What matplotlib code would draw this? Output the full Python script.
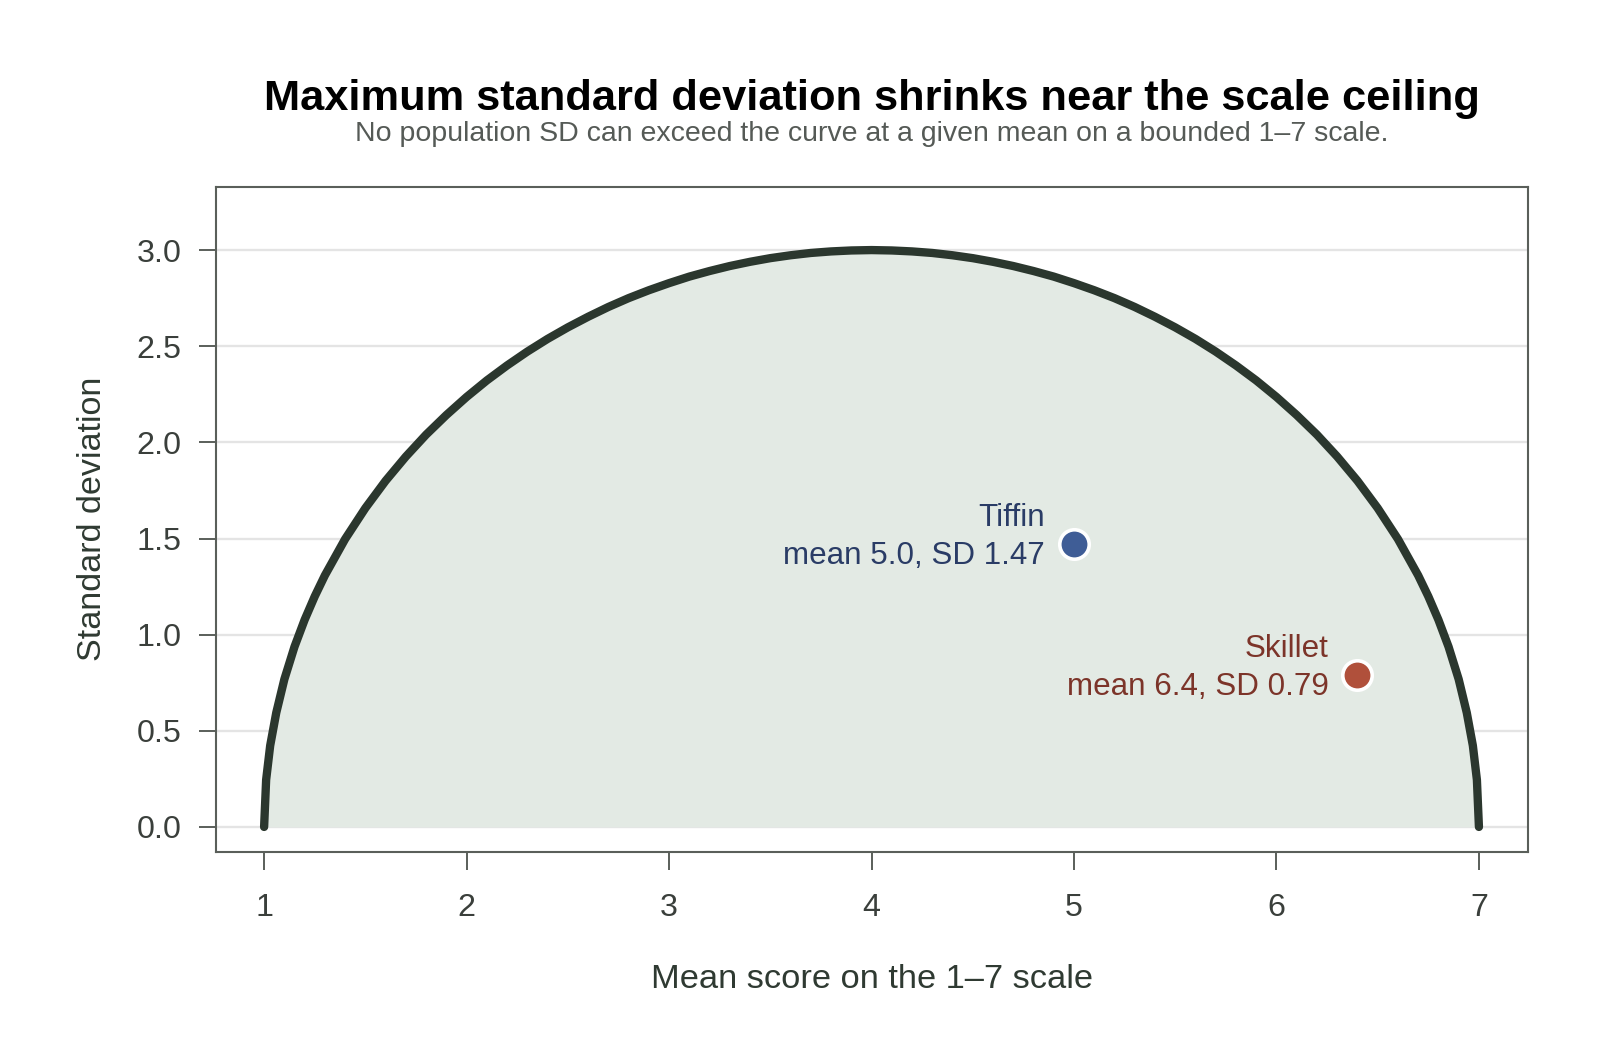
import matplotlib
matplotlib.use("Agg")
import matplotlib.pyplot as plt
from matplotlib.ticker import FormatStrFormatter

plt.rcParams['font.family'] = ['Liberation Sans', 'DejaVu Sans']

# Boundary curve (mean -> largest possible SD)
mean_grid = [1.00, 1.01, 1.03, 1.06, 1.10, 1.15, 1.20, 1.25, 1.30, 1.40,
             1.50, 1.60, 1.70, 1.80, 1.90, 2.00, 2.10, 2.20, 2.30, 2.40,
             2.50, 2.60, 2.70, 2.80, 2.90, 3.00, 3.10, 3.20, 3.30, 3.40,
             3.50, 3.60, 3.70, 3.80, 3.90, 4.00, 4.10, 4.20, 4.30, 4.40,
             4.50, 4.60, 4.70, 4.80, 4.90, 5.00, 5.10, 5.20, 5.30, 5.40,
             5.50, 5.60, 5.70, 5.80, 5.90, 6.00, 6.10, 6.20, 6.30, 6.40,
             6.50, 6.60, 6.70, 6.75, 6.80, 6.85, 6.90, 6.94, 6.97, 6.99,
             7.00]
sd_max = [0.000, 0.245, 0.423, 0.594, 0.768, 0.937, 1.077, 1.199, 1.308, 1.497,
          1.658, 1.800, 1.926, 2.040, 2.142, 2.236, 2.322, 2.400, 2.472, 2.538,
          2.598, 2.653, 2.704, 2.750, 2.791, 2.828, 2.862, 2.891, 2.917, 2.939,
          2.958, 2.973, 2.985, 2.993, 2.998, 3.000, 2.998, 2.993, 2.985, 2.973,
          2.958, 2.939, 2.917, 2.891, 2.862, 2.828, 2.791, 2.750, 2.704, 2.653,
          2.598, 2.538, 2.472, 2.400, 2.322, 2.236, 2.142, 2.040, 1.926, 1.800,
          1.658, 1.497, 1.308, 1.199, 1.077, 0.937, 0.768, 0.594, 0.423, 0.245,
          0.000]

# Observed products
names = ["Tiffin", "Skillet"]
means = [5.0, 6.4]
sds = [1.47, 0.79]
point_colors = ["#3f5d96", "#b0503b"]
text_colors = ["#2a3c66", "#7c3429"]

x_ticks = [1, 2, 3, 4, 5, 6, 7]
y_ticks = [0.0, 0.5, 1.0, 1.5, 2.0, 2.5, 3.0]

frame_col = "#5a5f5a"

fig = plt.figure(figsize=(8, 5.25), dpi=200)
ax = fig.add_axes([0.1347, 0.1890, 0.8200, 0.6329])

ax.fill_between(mean_grid, 0, sd_max, color="#e3eae4", linewidth=0, zorder=1)
ax.plot(mean_grid, sd_max, color="#2b372e", linewidth=3.0,
        solid_capstyle="round", solid_joinstyle="round", zorder=3)

for name, m, s, pc, tc in zip(names, means, sds, point_colors, text_colors):
    ax.plot(m, s, "o", markersize=10.6, markerfacecolor=pc,
            markeredgecolor="white", markeredgewidth=1.3, zorder=4)
    ax.annotate(f"{name}\nmean {m:.1f}, SD {s:.2f}", (m, s),
                xytext=(-10.4, -7.2), textcoords="offset points",
                ha="right", va="baseline", ma="right", color=tc,
                fontsize=11.3, linespacing=1.35, zorder=5)

ax.set_xlim(0.76, 7.24)
ax.set_ylim(-0.128, 3.328)
ax.set_xticks(x_ticks)
ax.set_yticks(y_ticks)
ax.yaxis.set_major_formatter(FormatStrFormatter("%.1f"))

ax.set_axisbelow(True)
ax.yaxis.grid(True, color="#e4e4e4", linewidth=0.85)
ax.xaxis.grid(False)

for sp in ax.spines.values():
    sp.set_color(frame_col)
    sp.set_linewidth(0.75)

ax.tick_params(axis="both", direction="out", length=6.3, width=0.7,
               color=frame_col, labelcolor="#3a3f3b", labelsize=11.6)
ax.tick_params(axis="x", pad=8.6)
ax.tick_params(axis="y", pad=6.0)

ax.set_xlabel("Mean score on the 1\u20137 scale", fontsize=12.4, color="#2f3a32")
ax.xaxis.label.set_va("baseline")
ax.xaxis.set_label_coords(0.5, -0.2051)
ax.set_ylabel("Standard deviation", fontsize=12.3, color="#2f3a32")
ax.yaxis.label.set_va("center")
ax.yaxis.set_label_coords(-0.0934, 0.5)

fig.text(0.5447, 0.8952, "Maximum standard deviation shrinks near the scale ceiling",
         ha="center", va="baseline", fontsize=15.6, fontweight="bold", color="black")
fig.text(0.5447, 0.8657,
         "No population SD can exceed the curve at a given mean on a bounded 1\u20137 scale.",
         ha="center", va="baseline", fontsize=10.25, color="#555a56")

fig.savefig("out.png", dpi=200, facecolor="white")
